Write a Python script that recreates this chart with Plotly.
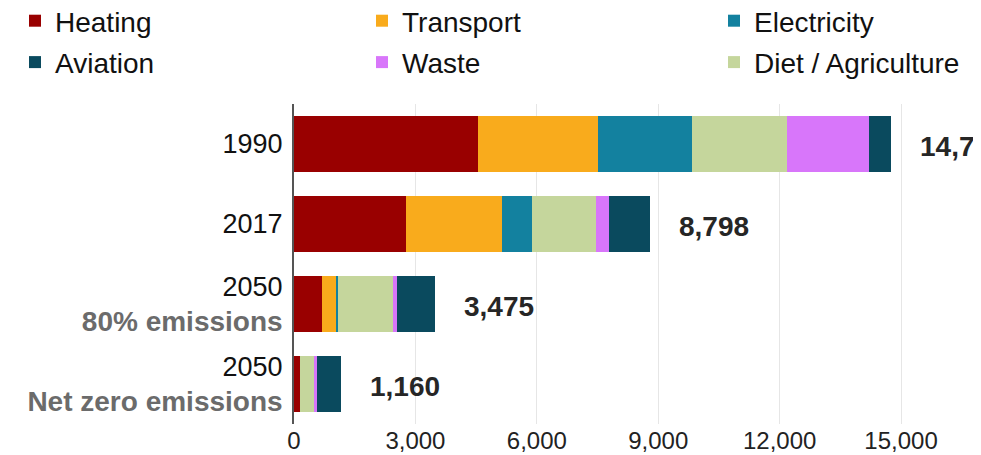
import plotly.graph_objects as go

years = ["1990", "2017", "2050", "2050"]
scenarios = ["", "", "80% emissions", "Net zero emissions"]
series_names = ["Heating", "Transport", "Electricity", "Diet / Agriculture", "Waste", "Aviation"]
heating = [4547, 2760, 692, 140]
transport = [2965, 2372, 363, 0]
electricity = [2323, 749, 32, 0]
diet_agriculture = [2347, 1581, 1359, 354]
waste = [2026, 322, 107, 82]
aviation = [545, 1014, 922, 584]
x_ticks = [0, 3000, 6000, 9000, 12000, 15000]

categories = [(y + " " + s).strip() for y, s in zip(years, scenarios)]
tick_text = [y if not s else
             f"{y}<br><span style='color:#6b6b6b;font-size:28px'><b>{s}</b></span>"
             for y, s in zip(years, scenarios)]

series_values = [heating, transport, electricity, diet_agriculture, waste, aviation]
colors = ["#990000", "#f9ab1c", "#13819f", "#c5d69c", "#d876fa", "#0a4a5e"]
legend_slot = {"Heating": ("legend", 1), "Aviation": ("legend", 2),
               "Transport": ("legend2", 1), "Waste": ("legend2", 2),
               "Electricity": ("legend3", 1), "Diet / Agriculture": ("legend3", 2)}

FONT = "Liberation Sans, Arial, sans-serif"
W, H = 973, 447  # page body has an 8px margin inside the 981x455 window
T, B = 96, 31
PLOT_H = H - T - B

fig = go.Figure()
for name, vals, col in zip(series_names, series_values, colors):
    lg, rank = legend_slot[name]
    fig.add_trace(go.Bar(
        name=name, y=categories, x=vals, orientation="h",
        marker=dict(color=col, line=dict(width=0)),
        legend=lg, legendrank=rank, legendgroup=name,
        hoverinfo="x+name",
    ))

totals = [sum(v) for v in zip(*series_values)]
for idx, tot in enumerate(totals):
    fig.add_annotation(x=tot, y=idx, text=f"<b>{tot:,}</b>", showarrow=False,
                       xanchor="left", xshift=27, yshift=-2,
                       font=dict(family=FONT, size=28, color="#262626"))

legend_common = dict(orientation="v", xref="container", yref="paper",
                     yanchor="top", y=1 + (T + 12) / PLOT_H, xanchor="left",
                     font=dict(family=FONT, size=28, color="#111111"),
                     tracegroupgap=2, traceorder="grouped", bgcolor="rgba(0,0,0,0)")

fig.update_layout(
    width=W, height=H,
    margin=dict(l=286, r=0, t=T, b=B, autoexpand=False),
    barmode="stack", bargap=0.3,
    plot_bgcolor="white", paper_bgcolor="white",
    font=dict(family=FONT, size=26, color="#222222"),
    legend=dict(x=7 / W, **legend_common),
    legend2=dict(x=354 / W, **legend_common),
    legend3=dict(x=706 / W, **legend_common),
    xaxis=dict(range=[0, 16975], tickvals=x_ticks, tickformat=",",
               showgrid=True, gridcolor="#e6e6e6", gridwidth=1,
               zeroline=False, showline=False, ticks="",
               tickfont=dict(family=FONT, size=24, color="#222222")),
    yaxis=dict(type="category", categoryorder="array", categoryarray=categories,
               tickvals=categories, ticktext=tick_text,
               range=[3.5, -0.5],
               showline=True, linecolor="#555555", linewidth=2, ticks="",
               ticklabelstandoff=4, showgrid=False,
               tickfont=dict(family=FONT, size=27, color="#111111")),
)

fig.write_html("out.html")
